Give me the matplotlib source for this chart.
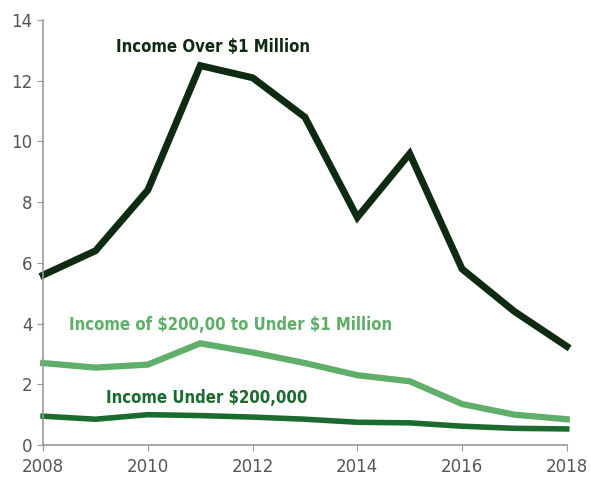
import matplotlib
matplotlib.use("Agg")
import matplotlib.pyplot as plt

years = [2008, 2009, 2010, 2011, 2012, 2013, 2014, 2015, 2016, 2017, 2018]
over_1m = [5.6, 6.4, 8.4, 12.5, 12.1, 10.8, 7.5, 9.6, 5.8, 4.4, 3.25]
mid_band = [2.7, 2.55, 2.65, 3.35, 3.05, 2.7, 2.3, 2.1, 1.35, 1.0, 0.85]
under_200k = [0.95, 0.85, 1.0, 0.97, 0.92, 0.85, 0.75, 0.73, 0.62, 0.55, 0.53]

dark = "#0e2a10"
light = "#5fae69"
mid = "#1b6a2e"
gray = "#555555"

fig = plt.figure(figsize=(5.91, 4.78), dpi=100)
ax = fig.add_axes([0.073, 0.069, 0.886, 0.889])

ax.plot(years, over_1m, color=dark, lw=5, solid_joinstyle="miter")
ax.plot(years, mid_band, color=light, lw=4.5, solid_joinstyle="miter")
ax.plot(years, under_200k, color=mid, lw=4.0, solid_joinstyle="miter")

# labels (dollar signs escaped so mathtext stays off)
kw = dict(fontsize=12, fontweight="bold", family="DejaVu Sans",
          fontstretch="condensed", va="center")
ax.text(2011.25, 13.1, "Income Over \\$1 Million", color=dark, ha="center", **kw)
ax.text(2008.5, 3.95, "Income of \\$200,00 to Under \\$1 Million", color=light,
        ha="left", **kw)
ax.text(2009.2, 1.55, "Income Under \\$200,000", color=mid, ha="left", **kw)

ax.set_xlim(2008, 2018)
ax.set_ylim(0, 14)
ax.set_xticks([2008, 2010, 2012, 2014, 2016, 2018])
ax.set_yticks(range(0, 15, 2))
for s in ["top", "right"]:
    ax.spines[s].set_visible(False)
for s in ["left", "bottom"]:
    ax.spines[s].set_color("#999999")
    ax.spines[s].set_linewidth(1.2)
ax.tick_params(colors="#999999", labelcolor=gray, labelsize=12, length=4)
ax.tick_params(axis="x", pad=5)
for ln in ax.lines:
    ln.set_clip_on(False)

fig.savefig("out.png", dpi=100)
